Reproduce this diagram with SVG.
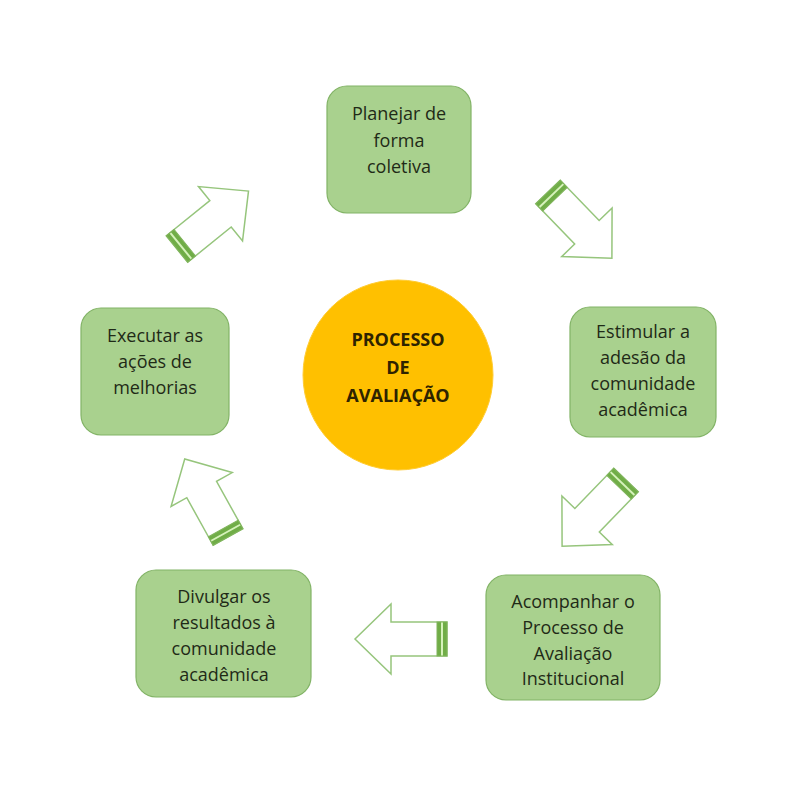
<svg xmlns="http://www.w3.org/2000/svg" xmlns:xlink="http://www.w3.org/1999/xlink" width="800" height="796" viewBox="0 0 800 796">
<style>
.box{fill:#a9d18e;stroke:#82b366;stroke-width:1.2}
.t{font-family:"Open Sans","Liberation Sans",sans-serif;font-size:18px;fill:#1f2a17;text-anchor:middle}
.c{font-family:"Open Sans","Liberation Sans",sans-serif;font-size:18px;font-weight:bold;fill:#2e2300;text-anchor:middle}
.ao{fill:#ffffff;stroke:#96c57c;stroke-width:1.5;stroke-linejoin:miter}
.ab{fill:#70ad47;stroke:#80b45c;stroke-width:1}
.al{stroke:#d6f2bb;stroke-width:2}
</style>
<defs>
<g id="arrow">
<polygon class="ao" points="0,-17 56,-17 56,-35 92,0 56,35 56,17 0,17"/>
<rect class="ab" x="0" y="-17" width="10" height="34"/>
<line class="al" x1="5" y1="-16.5" x2="5" y2="16.5"/>
</g>
</defs>
<rect width="800" height="796" fill="#ffffff"/>
<g id="connectors">
<use xlink:href="#arrow" transform="translate(548,192) rotate(46)"/>
<use xlink:href="#arrow" transform="translate(626,480) rotate(134)"/>
<use xlink:href="#arrow" transform="translate(447,639) rotate(180)"/>
<use xlink:href="#arrow" transform="translate(228,537) rotate(241) scale(0.97,1)"/>
<use xlink:href="#arrow" transform="translate(177,249) rotate(-39)"/>
</g>
<g id="center">
<circle cx="398" cy="375" r="95" fill="#ffc000" stroke="#ffcc33" stroke-width="1"/>
<text class="c" x="398" y="346">PROCESSO</text>
<text class="c" x="398" y="374">DE</text>
<text class="c" x="398" y="402">AVALIAÇÃO</text>
</g>
<g id="planejar">
<rect class="box" x="327" y="86" width="144" height="127" rx="20"/>
<text class="t" x="399" y="120">Planejar de</text>
<text class="t" x="399" y="147">forma</text>
<text class="t" x="399" y="173">coletiva</text>
</g>
<g id="estimular">
<rect class="box" x="570" y="307" width="146" height="130" rx="20"/>
<text class="t" x="643" y="338">Estimular a</text>
<text class="t" x="643" y="364">adesão da</text>
<text class="t" x="643" y="390">comunidade</text>
<text class="t" x="643" y="416">acadêmica</text>
</g>
<g id="acompanhar">
<rect class="box" x="486" y="575" width="174" height="125" rx="20"/>
<text class="t" x="573" y="608">Acompanhar o</text>
<text class="t" x="573" y="634">Processo de</text>
<text class="t" x="573" y="660">Avaliação</text>
<text class="t" x="573" y="685">Institucional</text>
</g>
<g id="divulgar">
<rect class="box" x="136" y="570" width="175" height="127" rx="20"/>
<text class="t" x="224" y="603">Divulgar os</text>
<text class="t" x="224" y="629">resultados à</text>
<text class="t" x="224" y="655">comunidade</text>
<text class="t" x="224" y="681">acadêmica</text>
</g>
<g id="executar">
<rect class="box" x="81" y="308" width="148" height="127" rx="20"/>
<text class="t" x="155" y="342">Executar as</text>
<text class="t" x="155" y="368">ações de</text>
<text class="t" x="155" y="394">melhorias</text>
</g>
</svg>
